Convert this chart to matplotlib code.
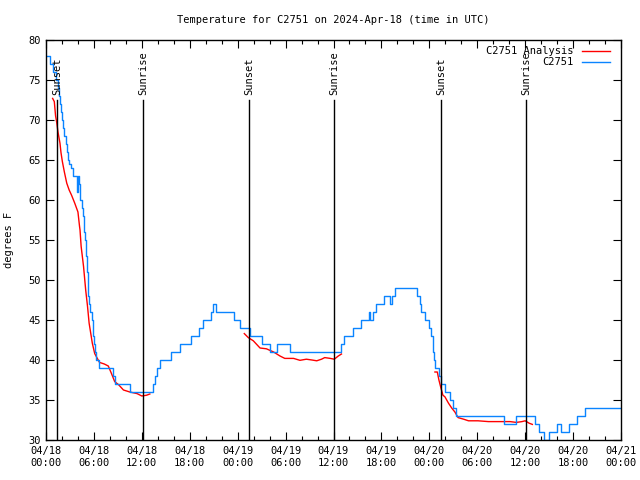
import matplotlib
matplotlib.use("Agg")
import matplotlib.pyplot as plt
from matplotlib.ticker import MultipleLocator

# ---- data (hours since 2024-04-18 00:00 UTC) ----
obs_t = [0, 0.5, 0.9, 1.2, 1.5, 1.65, 1.75, 1.9, 2.0, 2.15, 2.3, 2.45, 2.6, 2.75, 2.9, 3.1, 3.4,
         3.85, 3.95, 4.1, 4.3, 4.5, 4.6, 4.7, 4.8, 4.9, 5.0, 5.1, 5.2, 5.3, 5.4, 5.5, 5.8, 5.9,
         6.0, 6.15, 6.3, 6.6, 8.4, 8.7, 10.5, 13.4, 13.7, 13.95, 14.3, 15.7, 16.8, 18.2, 19.2,
         19.6, 20.6, 20.9, 21.3, 23.6, 24.3, 25.5, 27.1, 28.0, 28.9, 30.5, 37.0, 37.3, 38.5,
         39.5, 40.4, 40.6, 40.9, 41.3, 42.3, 43.1, 43.3, 43.7, 46.5, 46.8, 47.0, 47.45, 47.9,
         48.2, 48.4, 48.5, 48.6, 48.7, 49.2, 49.5, 49.95, 50.6, 51.0, 51.4, 57.3, 58.9, 61.2,
         61.7, 62.3, 63.0, 64.0, 64.5, 65.5, 66.5, 67.5, 71.9]
obs_v = [78, 77, 76, 75, 74, 73, 72, 71, 70, 69, 68, 67, 66, 65, 64.5, 64, 63,
         61, 63, 62, 60, 59, 58, 57, 56, 55, 53, 51, 49, 48, 47, 46, 45, 43,
         42, 41, 40, 39, 38, 37, 36, 37, 38, 39, 40, 41, 42, 43, 44,
         45, 46, 47, 46, 45, 44, 43, 42, 41, 42, 41, 42, 43, 44,
         45, 46, 45, 46, 47, 48, 47, 48, 49, 48, 47, 46, 45, 44,
         43, 42, 41, 40, 39, 38, 37, 36, 35, 34, 33, 32, 33, 32,
         31, 30, 31, 32, 31, 32, 33, 34, 34]

an1_t = [0.83, 1.04, 1.2, 1.34, 1.5, 1.75, 1.88, 2.05, 2.3, 2.6, 2.9, 3.2, 3.6, 4.0, 4.2, 4.26,
         4.4, 4.7, 4.97, 5.2, 5.4, 5.8, 6.1, 6.7, 7.3, 7.8, 8.2, 8.6, 9.1, 9.7, 10.5, 11.4,
         12.0, 12.6, 13.0]
an1_v = [72.7, 72.3, 70.5, 69.7, 68.5, 67.1, 65.9, 64.8, 63.5, 62.1, 61.25, 60.6, 59.6, 58.5,
         56.7, 56.25, 54.2, 51.7, 48.75, 46.7, 44.6, 42.1, 40.8, 39.7, 39.5, 39.25, 38.3, 37.3,
         36.9, 36.25, 36.0, 35.8, 35.5, 35.6, 35.75]
an2_t = [24.83, 25.33, 25.96, 26.8, 27.6, 28.5, 29.3, 29.9, 31.0, 31.8, 32.6, 33.3, 33.9, 34.5,
         34.9, 35.6, 36.1, 36.6, 37.0]
an2_v = [43.3, 42.8, 42.4, 41.5, 41.4, 41.0, 40.5, 40.2, 40.2, 39.96, 40.1, 40.0, 39.9, 40.1,
         40.3, 40.2, 40.1, 40.5, 40.75]
an3_t = [48.7, 49.0, 49.2, 49.4, 49.7, 49.95, 50.4, 50.8, 51.2, 51.6, 52.3, 52.9, 54.1, 55.4,
         56.8, 58.1, 58.9, 59.6, 60.0, 60.5, 60.9]
an3_v = [38.5, 38.5, 37.5, 36.7, 35.6, 35.4, 34.6, 34.0, 33.5, 32.8, 32.6, 32.4, 32.4, 32.3,
         32.3, 32.3, 32.2, 32.3, 32.4, 32.1, 31.95]

sun_t = [1.42, 12.19, 25.46, 36.1, 49.5, 60.15]
sun_lbl = ["Sunset", "Sunrise", "Sunset", "Sunrise", "Sunset", "Sunrise"]

xtick_pos = [0, 6, 12, 18, 24, 30, 36, 42, 48, 54, 60, 66, 72]
xtick_lbl = ["04/18\n00:00", "04/18\n06:00", "04/18\n12:00", "04/18\n18:00",
             "04/19\n00:00", "04/19\n06:00", "04/19\n12:00", "04/19\n18:00",
             "04/20\n00:00", "04/20\n06:00", "04/20\n12:00", "04/20\n18:00",
             "04/21\n00:00"]

RED = "#ff0000"
BLUE = "#0a84ff"

plt.rcParams['font.family'] = ['DejaVu Sans Mono']
FS = 7.5

fig = plt.figure(figsize=(6.4, 4.8), dpi=100)
ax = fig.add_axes([46/640, 1 - 440/480, 575/640, 400/480])

ax.plot(an1_t, an1_v, color=RED, lw=1, label="C2751 Analysis")
ax.plot(an2_t, an2_v, color=RED, lw=1)
ax.plot(an3_t, an3_v, color=RED, lw=1)
ax.plot(obs_t, obs_v, color=BLUE, lw=1, drawstyle="steps-post", label="C2751")

for t, l in zip(sun_t, sun_lbl):
    ax.plot([t, t], [30, 72.5], color="black", lw=1)
    ax.text(t, 73.1, l, rotation=90, ha="center", va="bottom", fontsize=FS)

ax.set_xlim(0, 72)
ax.set_ylim(30, 80)
ax.set_xticks(xtick_pos)
ax.set_xticklabels(xtick_lbl, fontsize=FS, linespacing=1.3)
ax.xaxis.set_minor_locator(MultipleLocator(2))
ax.yaxis.set_major_locator(MultipleLocator(5))
ax.tick_params(axis='y', labelsize=FS)
ax.tick_params(which='major', direction='in', length=6, width=0.8, top=True, right=True, pad=4)
ax.tick_params(which='minor', direction='in', length=3, width=0.8, top=True, right=False)
ax.tick_params(axis='y', which='minor', left=False, right=False)
for s in ax.spines.values():
    s.set_linewidth(1)

ax.set_ylabel("degrees F", fontsize=FS, labelpad=10)
fig.text(333/640, 1 - 20/480, "Temperature for C2751 on 2024-Apr-18 (time in UTC)",
         ha="center", va="center", fontsize=FS)

leg = ax.legend(loc="upper right", bbox_to_anchor=(1 - 5/575, 1), frameon=False,
                markerfirst=False, fontsize=FS,
                handlelength=2.7, handletextpad=0.8, borderaxespad=0.2, labelspacing=0.1)

fig.savefig("out.png", dpi=100)
